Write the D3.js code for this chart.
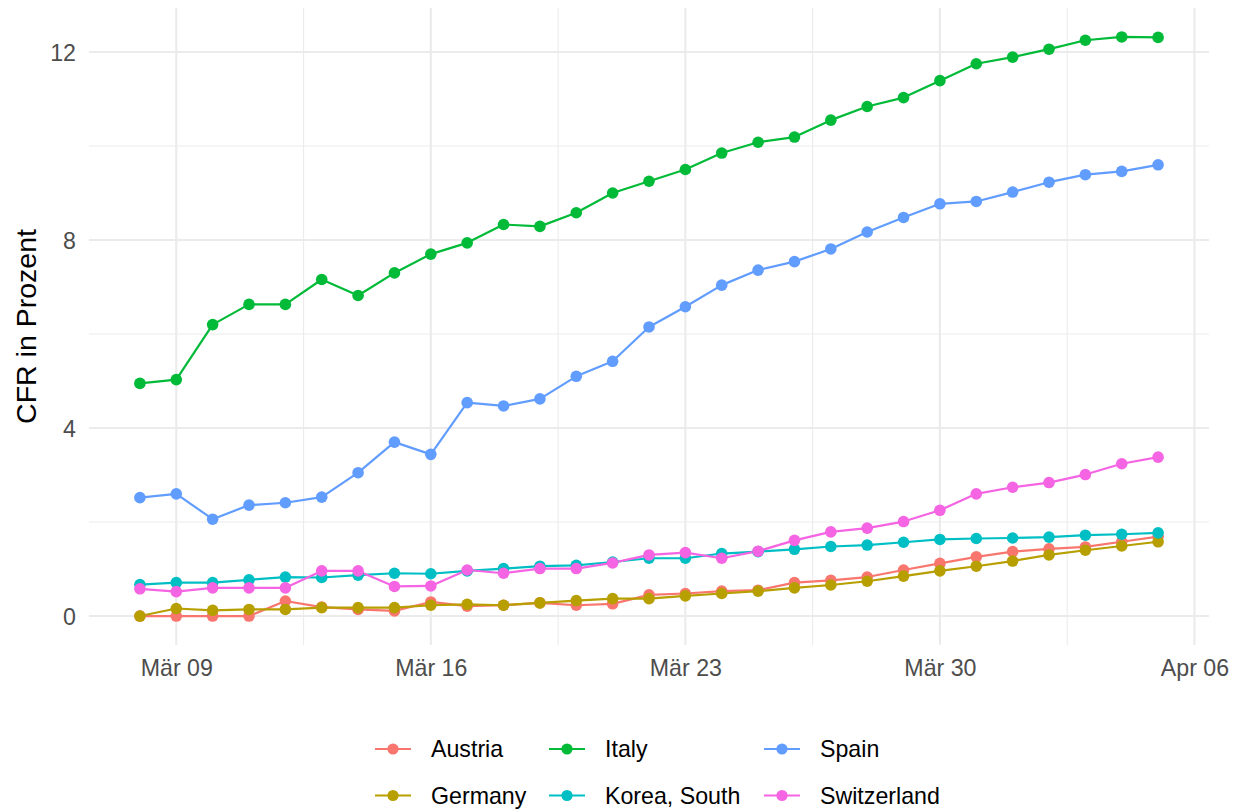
<!DOCTYPE html>
<html>
<head>
<meta charset="utf-8">
<script src="https://cdn.jsdelivr.net/npm/d3@7"></script>
<style>
  html, body { margin: 0; padding: 0; background: #ffffff; }
  svg { display: block; font-family: "Liberation Sans", Arial, sans-serif; }
</style>
</head>
<body>
<svg id="chart" width="1241" height="810"></svg>
<script>
// ---------------- data ----------------
const dates = [
  "2020-03-08","2020-03-09","2020-03-10","2020-03-11","2020-03-12","2020-03-13","2020-03-14",
  "2020-03-15","2020-03-16","2020-03-17","2020-03-18","2020-03-19","2020-03-20","2020-03-21",
  "2020-03-22","2020-03-23","2020-03-24","2020-03-25","2020-03-26","2020-03-27","2020-03-28",
  "2020-03-29","2020-03-30","2020-03-31","2020-04-01","2020-04-02","2020-04-03","2020-04-04",
  "2020-04-05"
];
const countries = ["Austria","Germany","Italy","Korea, South","Spain","Switzerland"];
const austria = [0,0,0,0,0.32,0.19,0.14,0.11,0.30,0.21,0.23,0.28,0.23,0.26,0.45,0.48,0.53,0.55,0.71,0.76,0.83,0.98,1.12,1.26,1.37,1.43,1.47,1.58,1.69];
const germany = [0,0.16,0.12,0.14,0.14,0.18,0.18,0.18,0.23,0.25,0.23,0.28,0.33,0.37,0.37,0.43,0.48,0.53,0.60,0.66,0.74,0.85,0.96,1.06,1.17,1.30,1.40,1.49,1.58];
const italy = [4.95,5.03,6.20,6.63,6.63,7.16,6.82,7.30,7.70,7.94,8.33,8.29,8.58,9.00,9.25,9.50,9.85,10.08,10.19,10.55,10.84,11.03,11.39,11.75,11.89,12.06,12.25,12.32,12.31];
const korea = [0.67,0.71,0.71,0.77,0.83,0.82,0.87,0.91,0.90,0.96,1.01,1.06,1.08,1.15,1.23,1.23,1.33,1.37,1.42,1.48,1.51,1.57,1.63,1.65,1.66,1.68,1.72,1.74,1.77];
const spain = [2.52,2.60,2.06,2.36,2.41,2.53,3.05,3.70,3.44,4.54,4.47,4.62,5.10,5.42,6.15,6.58,7.04,7.36,7.54,7.81,8.17,8.48,8.77,8.82,9.02,9.23,9.39,9.46,9.60];
const switzerland = [0.58,0.52,0.60,0.60,0.60,0.96,0.96,0.63,0.64,0.98,0.91,1.01,1.01,1.13,1.30,1.35,1.23,1.38,1.61,1.79,1.87,2.01,2.25,2.60,2.74,2.84,3.01,3.24,3.38];
const colors = ["#F8766D","#B79F00","#00BA38","#00BFC4","#619CFF","#F564E3"];
const xTickDates = ["2020-03-09","2020-03-16","2020-03-23","2020-03-30","2020-04-06"];
const xTickLabels = ["Mär 09","Mär 16","Mär 23","Mär 30","Apr 06"];
const xMinorDates = ["2020-03-12T12:00","2020-03-19T12:00","2020-03-26T12:00","2020-04-02T12:00"];
const yTicks = [0,4,8,12];
const yMinor = [2,6,10];
const yTitle = "CFR in Prozent";

// ---------------- setup ----------------
const seriesValues = [austria, germany, italy, korea, spain, switzerland];
const parse = s => new Date(s.length > 10 ? s + ":00Z" : s + "T00:00:00Z");
const dateObjs = dates.map(parse);
const series = countries.map((c, i) => ({
  name: c, color: colors[i],
  values: seriesValues[i].map((v, j) => ({ date: dateObjs[j], value: v }))
}));

const panel = { left: 89, right: 1209, top: 8, bottom: 645 };
const svg = d3.select("#chart");

// ggplot-style 5% expansion
const dMin = dateObjs[0], dMax = dateObjs[dateObjs.length - 1];
const span = dMax - dMin;
const x = d3.scaleUtc()
  .domain([new Date(+dMin - span * 0.05), new Date(+dMax + span * 0.05)])
  .range([panel.left, panel.right]);
const allVals = seriesValues.flat();
const yLo = d3.min(allVals), yHi = d3.max(allVals);
const ySpan = yHi - yLo;
const y = d3.scaleLinear()
  .domain([yLo - ySpan * 0.05, yHi + ySpan * 0.05])
  .range([panel.bottom, panel.top]);

// ---------------- grid ----------------
const grid = svg.append("g");
grid.append("g").selectAll("line").data(yMinor).join("line")
  .attr("x1", panel.left).attr("x2", panel.right)
  .attr("y1", d => y(d)).attr("y2", d => y(d))
  .attr("stroke", "#EBEBEB").attr("stroke-width", 1.1);
grid.append("g").selectAll("line").data(xMinorDates.map(parse)).join("line")
  .attr("y1", panel.top).attr("y2", panel.bottom)
  .attr("x1", d => x(d)).attr("x2", d => x(d))
  .attr("stroke", "#EBEBEB").attr("stroke-width", 1.1);
grid.append("g").selectAll("line").data(yTicks).join("line")
  .attr("x1", panel.left).attr("x2", panel.right)
  .attr("y1", d => y(d)).attr("y2", d => y(d))
  .attr("stroke", "#EBEBEB").attr("stroke-width", 2.1);
grid.append("g").selectAll("line").data(xTickDates.map(parse)).join("line")
  .attr("y1", panel.top).attr("y2", panel.bottom)
  .attr("x1", d => x(d)).attr("x2", d => x(d))
  .attr("stroke", "#EBEBEB").attr("stroke-width", 2.1);

// ---------------- axes ----------------
const xAxis = d3.axisBottom(x)
  .tickValues(xTickDates.map(parse))
  .tickFormat((d, i) => xTickLabels[i])
  .tickSize(0).tickPadding(0);
const gx = svg.append("g").attr("transform", `translate(0,659)`).call(xAxis);
gx.select(".domain").remove();
gx.selectAll("text").attr("fill", "#4D4D4D").attr("font-size", 23.2)
  .attr("font-family", "Liberation Sans, Arial, sans-serif").attr("y", 0).attr("dy", "0.72em");

const yAxis = d3.axisLeft(y).tickValues(yTicks).tickFormat(d3.format("d"))
  .tickSize(0).tickPadding(0);
const gy = svg.append("g").attr("transform", `translate(76,0)`).call(yAxis);
gy.select(".domain").remove();
gy.selectAll("text").attr("fill", "#4D4D4D").attr("font-size", 23.2)
  .attr("font-family", "Liberation Sans, Arial, sans-serif").attr("x", 0).attr("dy", "0.36em");

svg.append("text")
  .attr("transform", `translate(36,${(panel.top + panel.bottom) / 2}) rotate(-90)`)
  .attr("text-anchor", "middle")
  .attr("font-size", 28.5).attr("fill", "#000000")
  .text(yTitle);

// ---------------- marks ----------------
const line = d3.line().x(d => x(d.date)).y(d => y(d.value));
svg.append("g").selectAll("path").data(series).join("path")
  .attr("d", d => line(d.values))
  .attr("fill", "none").attr("stroke", d => d.color)
  .attr("stroke-width", 2.2).attr("stroke-linejoin", "round");

svg.append("g").selectAll("g").data(series).join("g")
  .attr("fill", d => d.color)
  .selectAll("circle").data(d => d.values).join("circle")
  .attr("cx", d => x(d.date)).attr("cy", d => y(d.value)).attr("r", 5.8);

// ---------------- legend ----------------
const legCols = [375, 549, 764];
const legRows = [749, 795.5];
const legend = svg.append("g");
series.forEach((s, i) => {
  const col = Math.floor(i / 2), row = i % 2;
  const g = legend.append("g").attr("transform", `translate(${legCols[col]},${legRows[row]})`);
  g.append("line").attr("x1", 0).attr("x2", 36).attr("y1", 0).attr("y2", 0)
    .attr("stroke", s.color).attr("stroke-width", 2.2);
  g.append("circle").attr("cx", 18).attr("cy", 0).attr("r", 5.6).attr("fill", s.color);
  g.append("text").attr("x", 56).attr("y", 0).attr("dy", "0.36em")
    .attr("font-size", 23.2).attr("fill", "#000000").text(s.name);
});
</script>
</body>
</html>
